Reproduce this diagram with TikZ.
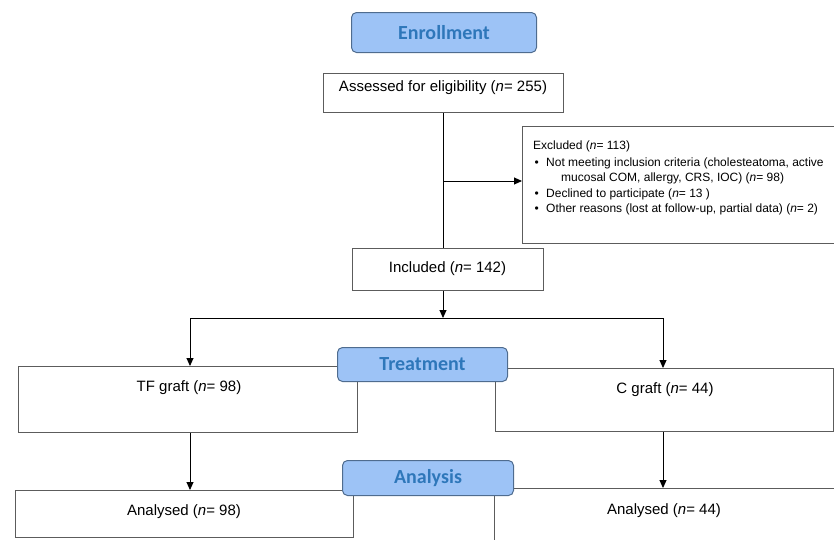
\documentclass[tikz,border=0pt]{standalone}
\usepackage{fontspec}
\setmainfont{Liberation Sans}
\newfontfamily\lblfont{Carlito}
\usetikzlibrary{arrows.meta}
\definecolor{lblfill}{HTML}{9DC3F6}
\definecolor{lbldraw}{HTML}{4F6C8F}
\definecolor{lbltext}{HTML}{2E77BA}
\definecolor{boxdraw}{HTML}{5C5C5C}
\begin{document}
\begin{tikzpicture}[x=1pt,y=-1pt,
  box/.style={draw=boxdraw,line width=1.1pt,fill=white,inner sep=0pt,anchor=north west},
  lbl/.style={draw=lbldraw,line width=1pt,fill=lblfill,rounded corners=5pt,inner sep=0pt,
    anchor=north west,text=lbltext,font=\lblfont\bfseries\fontsize{20}{24}\selectfont},
  txt/.style={inner sep=0pt,font=\fontsize{15}{18}\selectfont},
  small/.style={inner sep=0pt,anchor=base west,font=\fontsize{12}{14}\selectfont},
  conn/.style={draw=black,line width=0.9pt},
  arr/.style={conn,-{Triangle[length=8pt,width=7pt]}}]
\useasboundingbox (0,0) rectangle (834,539);
% boxes
\node[box,minimum width=240pt,minimum height=39pt] (assess) at (323,73) {};
\node[box,minimum width=314pt,minimum height=117pt] (excl) at (522,126) {};
\node[box,minimum width=191pt,minimum height=42pt] (incl) at (352,248) {};
\node[box,minimum width=339pt,minimum height=66pt] (tf) at (18,366) {};
\node[box,minimum width=338pt,minimum height=63pt] (cg) at (495,368) {};
\node[box,minimum width=338pt,minimum height=47pt] (anl) at (15,490) {};
\node[box,minimum width=340pt,minimum height=53pt] (anr) at (494,488) {};
% texts
\node[txt] (assesst) at (443,87.5) {Assessed for eligibility (\textit{n}= 255)};
\node[txt] (inclt) at (447.5,269) {Included (\textit{n}= 142)};
\node[txt] (tft) at (189,388) {TF graft (\textit{n}= 98)};
\node[txt] (cgt) at (665,390) {C graft (\textit{n}= 44)};
\node[txt] (anlt) at (184,512) {Analysed (\textit{n}= 98)};
\node[txt] (anrt) at (664,511) {Analysed (\textit{n}= 44)};
\node[small] (ex1) at (533,149.5) {Excluded (\textit{n}= 113)};
\node[small] (ex2) at (534.5,166.5) {\makebox[11.5pt][l]{\textbullet}Not meeting inclusion criteria (cholesteatoma, active};
\node[small] (ex3) at (561,181) {mucosal COM, allergy, CRS, IOC) (\textit{n}= 98)};
\node[small] (ex4) at (534.5,197.5) {\makebox[11.5pt][l]{\textbullet}Declined to participate (\textit{n}= 13 )};
\node[small] (ex5) at (534.5,212.5) {\makebox[11.5pt][l]{\textbullet}Other reasons (lost at follow-up, partial data) (\textit{n}= 2)};
% connectors
\coordinate (j1) at (443,181);
\coordinate (split) at (443,318);
\coordinate (lsplit) at (190,318);
\coordinate (rsplit) at (663,318);
\draw[conn] (assess.south) -- (incl.north -| assess.south);
\draw[arr] (j1) -- (j1 -| excl.west);
\draw[arr] (incl.south -| split) -- (split);
\draw[conn] (lsplit) -- (rsplit);
\draw[arr] (lsplit) -- (lsplit |- tf.north);
\draw[arr] (rsplit) -- (rsplit |- cg.north);
\draw[arr] (tf.south -| lsplit) -- (lsplit |- anl.north);
\draw[arr] (cg.south -| rsplit) -- (rsplit |- anr.north);
% stage labels
\node[lbl,minimum width=185pt,minimum height=40pt] (enroll) at (351,12) {Enrollment};
\node[lbl,minimum width=170pt,minimum height=34pt] (treat) at (337,347) {Treatment};
\node[lbl,minimum width=171pt,minimum height=35pt] (analysis) at (342,460) {Analysis};
\end{tikzpicture}
\end{document}
